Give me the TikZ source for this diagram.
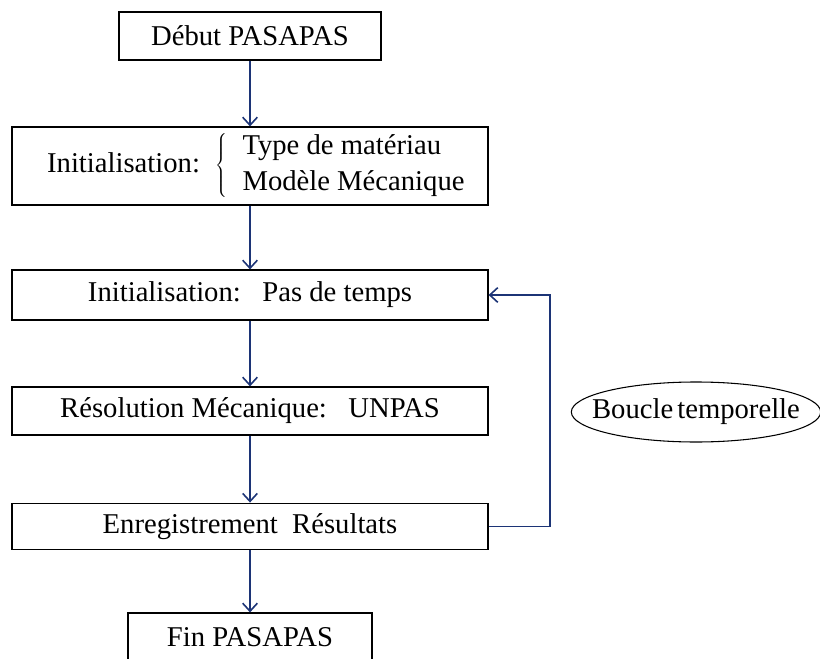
\documentclass[tikz,border=0pt]{standalone}
\usepackage{fontspec}
\setmainfont{Liberation Serif}
\usetikzlibrary{arrows.meta}
\definecolor{arrowblue}{RGB}{28,52,118}
\tikzset{
  box/.style={draw=black, line width=0.9pt, rectangle, inner sep=0pt, minimum width=357pt, font=\fontsize{21.5}{26}\selectfont},
  arr/.style={draw=arrowblue, line width=1.2pt, -{Straight Barb[length=6pt,width=11pt,line width=1.2pt]}},
  looptext/.style={inner sep=0pt, font=\fontsize{21.5}{26}\selectfont},
  loopline/.style={draw=black, line width=0.8pt}
}
\begin{document}
\begin{tikzpicture}[x=0.75pt,y=-0.75pt]
\useasboundingbox (0,0) rectangle (820,659);
\clip (0,0) rectangle (820,659);
\node[box, minimum width=196.5pt, minimum height=36pt] (debut) at (250,36) {Début PASAPAS};
\node[box, minimum height=58.5pt] (init) at (250,166) {\kern4pt Initialisation:\hspace{12pt}$\left\{\vcenter{\hbox{\begin{tabular}{@{\hspace{11pt}}l@{}}Type de matériau\\[1pt] Modèle Mécanique\end{tabular}}}\right.$\kern-6pt};
\node[box, minimum height=37.5pt] (pas) at (250,295) {Initialisation:\ \ \ Pas de temps};
\node[box, minimum height=36pt] (unpas) at (250,411) {Résolution Mécanique:\ \ \ UNPAS};
\node[box, minimum height=35pt] (enreg) at (250,526.5) {Enregistrement\ \ Résultats};
\node[box, minimum width=183pt, minimum height=36pt] (fin) at (250,637) {Fin PASAPAS};
\node[looptext] (boucle) at (696,412) {Boucle\kern3pt temporelle};
\draw[loopline] (boucle.center) ellipse [x radius=93.5pt, y radius=22.5pt];
\draw[arr] (debut.south) -- (init.north);
\draw[arr] (init.south) -- (pas.north);
\draw[arr] (pas.south) -- (unpas.north);
\draw[arr] (unpas.south) -- (enreg.north);
\draw[arr] (enreg.south) -- (fin.north);
\coordinate (loopx) at (550,0);
\draw[arr] (enreg.east) -- (enreg.east -| loopx) |- (pas.east);
\end{tikzpicture}
\end{document}
